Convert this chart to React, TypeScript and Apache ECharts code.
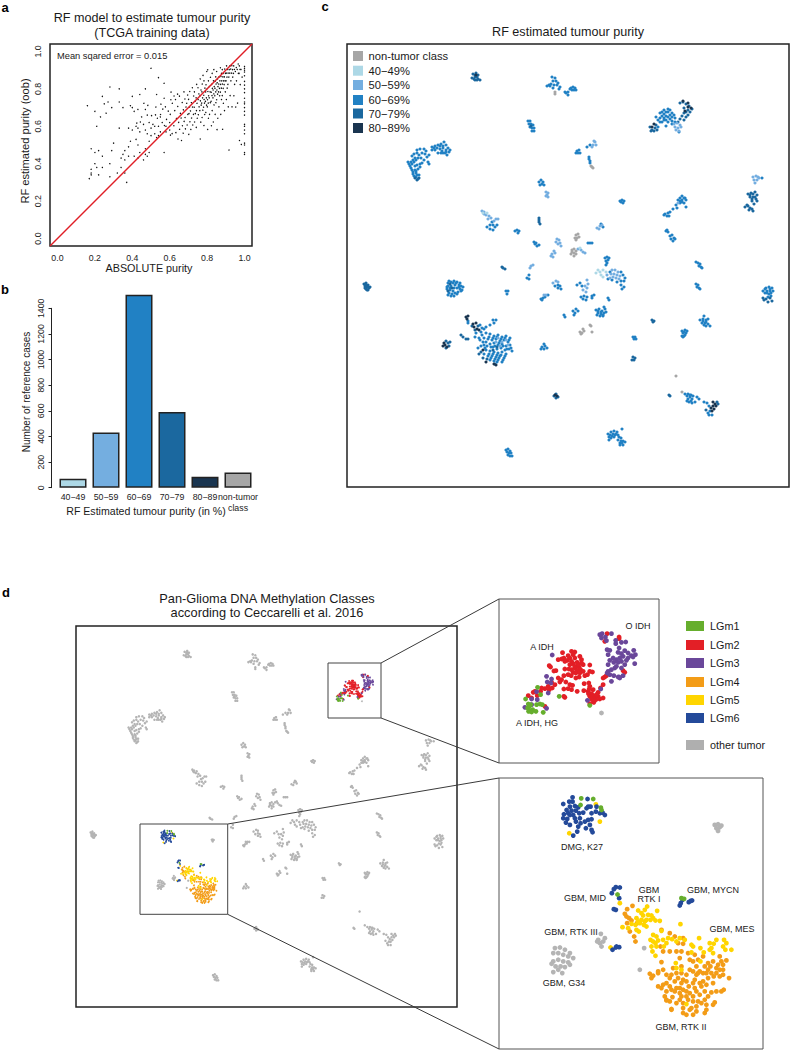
import React, { useEffect, useRef } from "react";
import * as echarts from "echarts";

// ---------- panel a: ABSOLUTE purity (x, y flat pairs) ----------
const trainingPairs = [
  .16,.71,.20,.68,.24,.76,.25,.72,.28,.81,.27,.73,.29,.7,.33,.8,.33,.73,.35,.70,.26,.67,.23,.65,.21,.60,.33,.59,.38,.59,.4,.76,.39,.71,.40,.70,.44,.77,.47,.8,.41,.68,.43,.69,.47,.69,.48,.66,.45,.65,.42,.6,.4,.58,.43,.59,.44,.57,.47,.58,.48,.56,.5,.91,.54,.86,.57,.83,.53,.77,.57,.75,.18,.48,.2,.46,.22,.47,.24,.44,.2,.4,.21,.38,.18,.37,.18,.35,.18,.34,.17,.32,.22,.34,.24,.38,.28,.4,.28,.33,.32,.35,.34,.38,.36,.35,.37,.3,.29,.47,.3,.51,.34,.43,.36,.42,.35,.45,.36,.47,.38,.44,.38,.49,.39,.52,.42,.53,.43,.5,.44,.46,.41,.44,.43,.43,.46,.42,.47,.45,.48,.44,.47,.48,.49,.46,.49,.52,.5,.55,.5,.59,.52,.6,.46,.61,.49,.62,.51,.61,.52,.56,.54,.55,.53,.54,.55,.57,.54,.6,.56,.62,.57,.46,.58,.6,.58,.57,.6,.58,.6,.62,.55,.65,
  .604,.553,.583,.637,.577,.704,.592,.681,.606,.742,.613,.561,.563,.692,.551,.663,.572,.604,.534,.643,.524,.661,.503,.657,.526,.703,.483,.712,.462,.723,.553,.718,.607,.783,.623,.762,.424,.617,.443,.623,.642,.772,
  .603,.664,.614,.723,.622,.603,.627,.684,.633,.566,.636,.642,.631,.743,.644,.532,.648,.621,.643,.706,.653,.584,.657,.669,.652,.761,.663,.524,.668,.603,.661,.644,.667,.727,.672,.563,.677,.626,.673,.688,.676,.784,.684,.586,.682,.647,.687,.703,.681,.746,.693,.607,.697,.664,.691,.723,.696,.767,.702,.557,.708,.624,.703,.668,.706,.703,.701,.744,.707,.786,
  .713,.583,.717,.644,.711,.682,.716,.726,.723,.607,.727,.664,.722,.703,.728,.762,.721,.806,.733,.623,.737,.668,.731,.702,.736,.734,.732,.784,.742,.594,.747,.643,.743,.684,.746,.723,.741,.752,.744,.824,.753,.662,.757,.704,.752,.743,.756,.773,.751,.806,.763,.532,.766,.622,.761,.684,.768,.713,.764,.736,.762,.763,.767,.794,.763,.853,.773,.647,.777,.686,.771,.724,.776,.752,.772,.784,.774,.826,.778,.872,.783,.604,.787,.663,.781,.702,.786,.724,.784,.743,.782,.766,.788,.804,.783,.843,.793,.674,.797,.713,.791,.733,.796,.752,.792,.784,.794,.822,.798,.893,.803,.583,.807,.643,.801,.704,.806,.724,.802,.742,.808,.763,.804,.786,.801,.802,.807,.843,.803,.902,
  .813,.664,.817,.726,.811,.752,.816,.784,.812,.813,.818,.862,.823,.603,.827,.684,.821,.733,.826,.764,.822,.782,.828,.803,.824,.824,.827,.883,.833,.623,.837,.714,.831,.752,.836,.773,.832,.794,.838,.812,.834,.843,.836,.903,.843,.664,.847,.726,.841,.763,.846,.784,.842,.803,.848,.826,.844,.842,.846,.864,.853,.582,.857,.643,.851,.742,.856,.772,.852,.794,.858,.812,.854,.833,.856,.853,.851,.893,.863,.704,.867,.763,.861,.784,.866,.803,.862,.826,.868,.843,.864,.864,.873,.664,.877,.743,.871,.783,.876,.804,.872,.824,.878,.843,.874,.866,.877,.883,.871,.913,.883,.584,.887,.723,.881,.764,.886,.803,.882,.826,.888,.843,.884,.864,.886,.883,.881,.903,.893,.684,.897,.784,.891,.823,.896,.843,.892,.864,.898,.883,.894,.906,.903,.743,.907,.804,.901,.843,.906,.863,.902,.884,.908,.904,.904,.923,
  .913,.704,.917,.473,.911,.824,.916,.863,.912,.884,.918,.903,.923,.764,.927,.843,.921,.884,.926,.906,.922,.923,.933,.704,.937,.863,.931,.884,.936,.903,.932,.924,.943,.763,.947,.824,.941,.883,.946,.904,.942,.923,.953,.703,.957,.843,.951,.893,.956,.914,.963,.724,.967,.883,.961,.904,.966,.933,.973,.524,.977,.823,.971,.883,.976,.904,.972,.923,.983,.503,.987,.863,.981,.904,
  1,.45,1,.46,1,.5,1,.51,1,.56,1,.58,1,.6,1,.61,1,.66,1,.68,1,.7,1,.72,1,.73,1,.75,1,.78,1,.8,1,.82,1,.84,1,.87,1,.89,1,.9,1,.91,1,.92,
];
const identityLine = [-0.04, 1.04];
const purityTicks = [0, 0.2, 0.4, 0.6, 0.8, 1.0];

// ---------- panel b ----------
const barCategories = ["40\u221249", "50\u221259", "60\u221269", "70\u221279", "80\u221289", "non-tumor\nclass"];
const barValues = [70, 430, 1505, 590, 85, 118];
const barColors = ["#ADD8E6", "#74AEE0", "#2181C4", "#1B689F", "#1A3550", "#A6A6A6"];

// ---------- panel c: embedding points by class (x, y flat pairs) ----------
const p60 = [
  552,77,555,78,553,81,556,81,558,83,551,84,554,85,557,85,549,85,547,86,550,86,560,87,559,89,553,88,
  528,121,530,121,529,124,531,124,533,125,530,127,532,128,534,128,532,131,534,131,
  418,179,416,177,414,176,419,175,416,173,413,172,412,170,415,170,411,168,409,164,408,162,411,162,413,160,415,158,412,156,414,154,417,165,420,164,422,163,424,160,421,158,419,155,422,153,417,150,420,149,424,149,426,151,420,167,429,155,428,162,429,164,432,147,435,146,438,145,441,144,444,142,446,145,443,148,440,149,435,150,432,150,442,151,446,150,449,152,447,155,445,153,450,150,438,153,
  410,166,412,164,414,162,416,160,418,158,417,153,425,154,427,157,418,169,415,166,413,174,417,175,416,171,434,148,437,148,440,146,443,146,448,148,446,152,443,153,441,153,
  539,182,541,180,543,182,540,185,542,184,544,185,492,222,490,225,493,225,495,227,490,229,487,227,493,230,497,225,
  515,231,517,230,519,231,518,233,534,242,535,244,537,246,536,243,539,245,
  571,88,573,87,575,88,572,90,574,90,576,90,570,89,568,92,566,93,568,95,565,92,
  660,113,664,110,668,109,672,113,668,112,664,114,660,118,664,118,668,117,672,117,658,120,662,122,668,122,672,121,675,118,656,117,666,126,675,122,658,127,679,132,
  662,112,666,112,670,110,674,115,666,116,670,115,662,116,660,122,664,120,670,119,672,124,666,120,
  577,151,579,150,578,153,580,153,576,153,587,147,590,145,589,157,589,159,590,161,590,163,
  762,178,620,201,622,200,624,201,621,202,623,203,
  680,198,682,196,685,198,678,200,682,200,686,200,680,203,684,203,676,205,686,207,677,208,673,209,670,212,668,213,665,214,667,216,669,216,664,215,680,201,684,198,682,202,
  603,227,601,224,588,243,590,243,592,243,666,231,667,230,668,232,670,236,672,235,674,238,671,239,673,241,675,239,
  605,258,607,257,609,258,606,261,608,260,607,263,606,265,
  448,283,451,282,454,281,457,282,448,286,451,286,455,285,459,285,461,286,447,289,450,290,453,291,457,288,460,289,463,287,449,293,452,294,455,293,458,292,461,291,451,296,
  449,281,453,283,456,283,460,283,447,287,450,288,454,288,459,287,462,290,448,295,454,296,457,294,
  529,275,527,278,529,279,506,291,508,291,507,294,555,286,558,285,560,286,561,289,558,288,543,298,545,297,541,299,548,295,542,300,
  468,321,468,323,480,325,482,328,484,329,486,327,481,332,476,333,475,337,479,338,493,320,496,320,494,323,490,325,
  482,335,486,333,490,334,494,336,498,335,502,337,506,336,510,338,484,338,488,339,492,340,496,339,500,341,504,340,508,342,486,342,490,344,494,343,498,345,502,344,506,346,510,345,493,347,497,349,501,348,505,350,509,349,512,351,486,350,490,351,494,352,498,353,502,352,506,354,484,354,488,356,492,356,496,357,500,356,504,358,490,360,494,361,498,360,502,362,495,364,478,348,
  480,340,483,342,487,346,491,347,495,346,499,343,503,346,507,349,511,348,489,354,493,354,497,355,501,355,505,356,491,358,495,359,499,358,503,360,497,362,484,345,481,346,485,348,489,337,493,338,497,337,501,339,505,338,509,340,
  544,344,542,347,545,346,547,348,544,349,541,349,
  506,450,508,449,510,451,507,452,509,453,511,453,508,455,510,456,512,456,
  610,272,621,272,623,275,625,278,621,281,624,281,617,282,612,280,608,279,621,285,624,287,622,289,
  577,285,580,283,582,286,581,297,584,296,587,297,583,299,586,300,592,296,594,295,592,298,608,298,609,300,573,311,575,313,574,315,576,309,578,311,596,310,599,309,602,311,605,309,598,313,601,314,604,313,600,316,603,316,606,312,604,307,564,315,565,317,598,311,601,312,603,315,597,315,
  696,262,698,263,700,264,699,266,701,267,702,268,696,284,698,285,697,287,699,288,700,289,
  766,288,769,287,772,288,763,291,767,291,770,291,773,291,765,293,769,294,771,293,768,297,765,289,770,289,767,293,771,296,
  704,316,700,320,703,319,706,320,708,319,702,323,705,323,708,324,710,326,706,326,703,321,706,322,704,325,
  682,331,685,330,687,331,683,333,686,333,682,336,684,336,683,337,684,332,685,335,633,337,635,337,636,339,634,339,
  685,394,688,394,691,395,693,396,687,396,690,397,692,399,697,397,699,399,695,402,687,401,689,402,692,403,704,402,707,403,709,406,708,413,710,411,712,415,709,415,690,395,688,399,691,401,
  608,434,611,432,614,431,617,432,609,437,612,436,615,435,618,435,609,440,622,429,618,440,621,438,623,441,620,443,625,442,623,445,620,445,610,435,613,434,616,434,611,438,614,437,619,437,621,441,622,443,
];
const p70 = [
  473,74,476,73,478,75,475,77,472,78,478,79,475,80,480,80,477,77,475,75,474,79,477,80,531,126,417,180,419,178,415,178,
  539,218,539,220,539,222,540,224,650,127,652,130,655,128,657,130,654,131,651,131,656,125,
  680,103,683,102,686,104,689,106,684,108,688,110,692,109,686,112,690,112,684,113,688,115,682,116,686,117,680,119,684,120,678,122,
  748,194,751,193,755,192,757,195,750,197,753,197,756,199,752,201,757,201,754,204,745,207,748,206,750,208,752,209,749,210,753,211,747,205,750,195,753,194,752,199,755,197,
  364,284,366,283,368,285,365,286,367,287,369,288,366,289,368,290,370,287,366,285,365,288,368,287,367,290,450,284,448,291,452,288,
  502,267,503,268,505,269,472,326,475,330,478,326,461,335,463,337,466,339,468,339,446,341,448,343,450,342,449,346,446,348,
  481,352,479,354,483,358,487,359,493,350,497,347,554,396,556,394,558,397,556,398,
  763,298,766,299,770,298,764,300,768,302,772,301,652,320,654,321,653,322,633,357,635,358,632,360,634,360,669,395,670,396,718,404,717,402,706,410,
];
const p50 = [
  546,192,548,193,547,195,548,197,546,196,482,211,484,212,486,215,489,216,491,218,484,214,488,219,494,221,496,219,498,219,
  557,239,559,240,556,242,558,244,560,243,561,246,554,251,552,254,555,253,551,256,553,257,
  674,124,677,123,680,125,675,127,678,128,681,127,676,130,679,131,593,145,595,142,596,145,594,141,592,147,
  753,177,756,176,758,177,754,180,757,180,755,183,759,178,678,203,597,228,600,226,602,225,599,229,578,249,581,250,583,252,585,253,
  530,268,531,266,533,265,553,283,556,281,558,282,546,295,544,295,498,338,502,342,496,342,500,346,506,340,508,345,
  612,270,615,270,618,272,611,274,614,274,617,275,620,276,613,277,616,278,619,279,607,275,610,278,587,280,588,284,585,286,587,288,583,290,586,292,
];
const p40 = [483,213,487,213,580,248,598,270,600,272,596,273,603,270,601,275,603,277,606,272];
const p80 = [
  476,75,654,124,652,127,683,101,688,103,691,108,688,107,685,111,466,317,468,316,467,319,473,324,476,323,474,327,477,329,479,330,
  444,343,445,345,447,347,443,346,494,364,496,365,483,350,486,362,555,395,557,396,
  713,402,715,404,713,406,716,406,711,408,714,409,712,411,
];
const nonTumor = [
  555,92,555,94,591,166,592,167,593,168,576,235,578,234,575,238,577,238,579,237,576,240,572,250,574,249,576,251,572,252,574,253,571,254,576,254,574,256,
  580,332,583,329,582,333,590,325,591,326,592,332,584,331,581,334,676,376,682,392,
];

// ---------- panel d: magnified glioma points by methylation class (x, y flat pairs) ----------
const idhLGm2 = [
  218,189,245,185,255,187,250,195,235,198,222,205,205,210,215,208,240,205,255,205,270,200,275,210,245,215,232,212,250,222,262,218,280,225,300,226,178,228,182,232,198,243,192,244,225,238,237,238,245,240,255,235,268,232,262,242,272,240,250,248,258,250,280,245,300,245,308,247,222,258,215,270,210,277,228,277,244,258,258,265,268,262,285,258,293,255,283,282,297,280,300,290,240,285,248,287,235,297,222,298,245,300,262,305,282,303,295,305,305,312,296,312,300,320,310,318,315,325,305,328,318,330,312,338,325,320,340,325,332,295,340,285,345,262,340,265,350,258,185,278,187,295,178,300,165,297,155,295,152,305,135,305,130,308,115,318,125,325,142,318,225,323,222,320,165,350,300,342,325,308,400,243,405,248,352,132,388,142,388,147,345,155,
  225,215,240,225,255,230,265,225,275,220,270,250,235,255,205,265,195,285,175,290,310,300,320,315,330,328,310,332,298,298,
];
const idhLGm3 = [
  187,196,170,260,172,277,185,268,183,280,175,310,140,306,125,328,142,330,105,353,170,356,125,345,293,332,333,298,
  330,135,337,132,335,145,347,142,365,132,350,153,378,152,378,162,395,158,408,157,352,180,360,182,388,175,355,195,385,188,395,192,405,183,415,190,432,182,437,195,425,198,415,205,400,200,390,205,380,210,370,205,360,212,355,225,372,218,385,218,395,215,410,212,430,202,435,222,405,225,395,235,380,230,375,235,365,240,355,245,360,255,352,250,372,258,365,275,388,262,400,258,390,265,385,262,
];
const idhLGm1 = [143,293,152,315,107,328,115,343,122,345,113,355,120,363,128,360,116,365,125,367,138,365,140,345,150,343,157,345,160,368,208,320,300,347,118,350];
const idhOther = [335,370];

const gbmLGm4 = [
  412,418,428,408,405,432,410,440,418,445,425,452,412,460,442,460,420,485,433,500,437,515,515,480,540,490,555,500,580,505,565,520,580,522,512,530,520,545,540,545,560,545,575,545,595,550,615,555,515,577,570,565,610,575,640,560,690,560,710,572,695,575,685,585,680,595,700,600,680,610,718,625,505,605,480,612,485,625,550,595,530,615,545,615,575,610,600,600,620,590,645,590,640,610,620,615,665,610,655,625,670,640,640,635,615,630,580,630,565,625,505,650,520,645,540,650,570,655,597,650,615,655,635,650,555,665,570,670,590,665,610,680,630,675,645,665,665,668,680,665,702,660,525,680,530,692,548,682,570,690,595,690,625,695,645,690,675,698,545,718,605,715,620,710,650,720,645,730,580,730,590,735,610,735,620,725,530,665,
  600,570,625,570,655,580,670,575,700,585,662,590,655,600,700,615,690,620,520,600,560,610,590,615,610,605,630,605,650,610,575,590,505,610,490,618,540,625,555,635,575,640,590,635,610,640,630,640,650,645,530,640,515,655,545,660,560,655,580,660,600,670,620,665,575,680,590,680,540,695,560,700,580,700,610,695,635,700,655,680,695,665,545,720,580,715,650,705,670,705,625,610,672,620,690,600,530,690,600,720,
];
const gbmLGm5 = [
  445,422,465,420,472,410,502,423,485,437,460,437,440,445,455,450,470,450,482,450,497,452,510,453,437,465,450,460,462,465,425,462,398,472,415,475,470,470,440,480,447,485,572,463,515,483,490,495,482,510,490,515,497,520,505,512,485,530,488,545,497,558,522,530,535,505,547,508,570,505,585,510,605,525,628,505,632,535,642,548,660,520,680,510,672,522,665,535,670,550,703,510,710,520,707,540,725,540,605,548,560,595,575,600,558,580,590,703,632,575,
  455,430,475,435,490,445,445,455,465,455,500,530,530,520,560,515,610,530,660,540,700,530,520,510,500,500,
  238,190,318,103,330,155,390,400,362,533,
];
const gbmLGm6 = [
  248,82,220,102,238,95,248,95,293,87,240,110,255,108,265,112,230,120,245,122,258,122,222,133,235,130,250,135,268,130,290,115,302,110,320,110,318,125,305,130,330,130,345,135,338,128,220,145,232,147,228,158,240,165,258,155,272,160,285,155,295,150,305,148,300,165,288,175,265,170,262,185,250,197,305,180,308,187,240,135,255,145,270,145,280,128,295,110,
  378,352,390,353,372,358,366,370,388,385,372,418,378,420,603,393,597,397,607,392,570,407,573,400,578,390,378,533,388,532,368,540,380,530,
];
const gbmLGm1 = [274,85,310,87,272,105,333,113,335,120,383,374,575,385,583,387];
const gbmOther = [
  463,535,450,600,333,492,345,505,325,510,330,520,340,515,335,530,322,515,
  675,165,685,163,695,167,680,175,690,172,685,183,
  195,535,210,533,225,540,240,550,190,550,205,550,220,555,235,560,250,565,190,575,205,570,220,575,235,578,185,582,197,590,212,590,225,592,190,607,205,600,217,610,240,585,
];

const purityLegend = [
  ["non-tumor class", "#A6A6A6"], ["40\u221249%", "#ADD8E6"], ["50\u221259%", "#74AEE0"],
  ["60\u221269%", "#2181C4"], ["70\u221279%", "#1B689F"], ["80\u221289%", "#1A3550"],
];
const lgmLegend = [
  ["LGm1", "#66AE2D"], ["LGm2", "#E31F26"], ["LGm3", "#6A479A"], ["LGm4", "#F39C17"],
  ["LGm5", "#FFD500"], ["LGm6", "#244A9A"], ["other tumor", "#AFAFAF"],
];

const FONT = '"Liberation Sans", Arial, sans-serif';
const pairs = (f: number[]) => {
  const out: number[][] = [];
  for (let i = 0; i + 1 < f.length; i += 2) out.push([f[i], f[i + 1]]);
  return out;
};
const txt = (text: string, x: number, y: number, size: number, extra: any = {}) => ({
  type: "text", x, y, rotation: extra.rotation ?? 0, silent: true,
  style: { text, x: 0, y: 0, fill: extra.fill ?? "#1a1a1a", align: extra.align ?? "center", verticalAlign: "middle", font: `${extra.weight ?? "normal"} ${size}px ${FONT}` },
});
const seg = (x1: number, y1: number, x2: number, y2: number) => ({
  type: "line", silent: true, shape: { x1, y1, x2, y2 }, style: { stroke: "#3a3a3a", lineWidth: 1 }, z: 20,
});

export default function App() {
  const ref = useRef<HTMLDivElement>(null);
  useEffect(() => {
    const chart = echarts.init(ref.current!, undefined, { renderer: "svg" });

    const box = (left: number, top: number, width: number, height: number, bw: number, color = "#222") => ({
      show: true, left, top, width, height, borderColor: color, borderWidth: bw, backgroundColor: "transparent", containLabel: false,
    });
    const hiddenX = (gridIndex: number, min: number, max: number) => ({ type: "value", gridIndex, min, max, show: false });
    const hiddenY = (gridIndex: number, min: number, max: number) => ({ type: "value", gridIndex, min, max, inverse: true, show: false });
    const dots = (name: string, idx: number, data: number[][], color: string, size: number) => ({
      name, type: "scatter", xAxisIndex: idx, yAxisIndex: idx, data, symbolSize: size, silent: true,
      itemStyle: { color, opacity: 1 }, clip: true,
    });

    const tickLabel = { fontFamily: FONT, fontSize: 8.8, color: "#222" };
    const [tx0, tx1, ty0, ty1] = [27, 508, 28, 520];
    const [bx0, bx1, by0, by1] = [27, 820, 24, 838];
    const inEitherBox = (p: number[]) =>
      (p[0] >= 639 && p[0] <= 700 && p[1] >= 87 && p[1] <= 151) || (p[0] >= 421 && p[0] <= 523 && p[1] >= 274 && p[1] <= 379);
    const overview = [p60, p70, p50, p40, p80, nonTumor].flatMap((a) => pairs(a)).filter((p) => !inEitherBox(p));

    const option: any = {
      animation: false,
      backgroundColor: "#fff",
      grid: [
        box(50, 44, 202, 202, 1.5),          // 0 a
        box(56.5, 308.3, 198, 179.4, 0),     // 1 b
        box(347, 44, 442, 443, 1.5),         // 2 c
        box(76, 626, 381, 381, 1.5),         // 3 overview
        box(328, 663, 53, 55, 1, "#444"),    // 4 small top
        box(140, 824, 87.7, 90.3, 1, "#444"),// 5 small bottom
        box(499, 599, 160, 164, 1, "#555"),  // 6 inset top
        box(499, 778, 264, 271, 1, "#555"),  // 7 inset bottom
      ],
      xAxis: [
        {
          type: "value", gridIndex: 0, min: -0.04, max: 1.04, axisLine: { show: false }, splitLine: { show: false },
          axisTick: { show: false },
          axisLabel: { ...tickLabel, margin: 7, customValues: purityTicks, formatter: (v: number) => v.toFixed(1) },
        },
        {
          type: "category", gridIndex: 1, data: barCategories, axisLine: { show: false }, axisTick: { show: false },
          axisLabel: { fontFamily: FONT, fontSize: 8.8, color: "#222", interval: 0, margin: 4, lineHeight: 11, hideOverlap: false, overflow: "none" },
        },
        hiddenX(2, 347, 789), hiddenX(3, 347, 789),
        hiddenX(4, tx0, tx1), hiddenX(5, bx0, bx1), hiddenX(6, tx0, tx1), hiddenX(7, bx0, bx1),
      ],
      yAxis: [
        {
          type: "value", gridIndex: 0, min: -0.04, max: 1.04, axisLine: { show: false }, splitLine: { show: false },
          axisTick: { show: false },
          axisLabel: { ...tickLabel, rotate: 90, margin: 8, customValues: purityTicks, formatter: (v: number) => v.toFixed(1) },
        },
        {
          type: "value", gridIndex: 1, min: 0, max: 1400, interval: 200, offset: 5, splitLine: { show: false },
          axisLine: { show: true, lineStyle: { color: "#222", width: 1 } },
          axisTick: { show: true, length: 3, lineStyle: { color: "#222", width: 1 } },
          axisLabel: { ...tickLabel, rotate: 90, margin: 6, formatter: (v: number) => String(v) },
        },
        hiddenY(2, 44, 487), hiddenY(3, 44, 487),
        hiddenY(4, ty0, ty1), hiddenY(5, by0, by1), hiddenY(6, ty0, ty1), hiddenY(7, by0, by1),
      ],
      series: [
        dots("training", 0, pairs(trainingPairs), "#111", 1.4),
        {
          name: "identity", type: "line", xAxisIndex: 0, yAxisIndex: 0, silent: true, showSymbol: false, symbol: "none",
          data: [[identityLine[0], identityLine[0]], [identityLine[1], identityLine[1]]],
          lineStyle: { color: "#E01E26", width: 1.5 }, z: 5,
        },
        {
          name: "cases", type: "bar", xAxisIndex: 1, yAxisIndex: 1, clip: false, barWidth: 27, silent: true,
          data: barValues.map((value, i) => ({ value, itemStyle: { color: barColors[i], borderColor: "#222", borderWidth: 1.5 } })),
        },
        dots("60-69%", 2, pairs(p60), "#2181C4", 3.1),
        dots("70-79%", 2, pairs(p70), "#1B689F", 3.1),
        dots("50-59%", 2, pairs(p50), "#74AEE0", 3.1),
        dots("40-49%", 2, pairs(p40), "#ADD8E6", 3.1),
        dots("80-89%", 2, pairs(p80), "#1A3550", 3.1),
        dots("non-tumor", 2, pairs(nonTumor), "#A6A6A6", 3.1),
        dots("other tumor", 3, overview, "#B4B4B4", 2.5),
        dots("LGm2", 4, pairs(idhLGm2), "#E31F26", 1.8),
        dots("LGm3", 4, pairs(idhLGm3), "#6A479A", 1.8),
        dots("LGm1", 4, pairs(idhLGm1), "#66AE2D", 1.8),
        dots("other", 4, pairs(idhOther), "#B4B4B4", 1.8),
        dots("other", 5, pairs(gbmOther), "#B4B4B4", 2.2),
        dots("LGm4", 5, pairs(gbmLGm4), "#F39C17", 1.8),
        dots("LGm5", 5, pairs(gbmLGm5), "#FFD500", 1.8),
        dots("LGm6", 5, pairs(gbmLGm6), "#244A9A", 1.8),
        dots("LGm1", 5, pairs(gbmLGm1), "#66AE2D", 1.8),
        dots("LGm2", 6, pairs(idhLGm2), "#E31F26", 4.8),
        dots("LGm3", 6, pairs(idhLGm3), "#6A479A", 4.8),
        dots("LGm1", 6, pairs(idhLGm1), "#66AE2D", 4.8),
        dots("other", 6, pairs(idhOther), "#B4B4B4", 4.8),
        dots("other", 7, pairs(gbmOther), "#B4B4B4", 4.8),
        dots("LGm4", 7, pairs(gbmLGm4), "#F39C17", 4.8),
        dots("LGm5", 7, pairs(gbmLGm5), "#FFD500", 4.8),
        dots("LGm6", 7, pairs(gbmLGm6), "#244A9A", 4.8),
        dots("LGm1", 7, pairs(gbmLGm1), "#66AE2D", 4.8),
      ],
      graphic: {
        elements: [
          txt("a", 5, 7, 13, { weight: "bold", fill: "#000" }),
          txt("b", 5, 289, 13, { weight: "bold", fill: "#000" }),
          txt("c", 325, 6, 13, { weight: "bold", fill: "#000" }),
          txt("d", 6, 592, 13, { weight: "bold", fill: "#000" }),
          txt("RF model to estimate tumour purity", 152, 18, 12.6),
          txt("(TCGA training data)", 152, 33, 12.6),
          txt("Mean sqared error = 0.015", 57, 56, 9.3, { align: "left" }),
          txt("ABSOLUTE purity", 149, 268, 10.8),
          txt("RF estimated purity (oob)", 25, 141, 11.1, { rotation: Math.PI / 2 }),
          txt("Number of reference cases", 26, 392, 10, { rotation: Math.PI / 2 }),
          txt("RF Estimated tumour purity (in %)", 146, 511, 10.6),
          txt("RF estimated tumour purity", 568, 32, 12.6),
          txt("Pan-Glioma DNA Methylation Classes", 267, 598, 12.8),
          txt("according to Ceccarelli et al. 2016", 267, 612, 12.8),
          ...purityLegend.flatMap(([label, color], i) => {
            const y = [56, 70.7, 85, 100, 113.5, 128][i];
            return [
              { type: "rect", silent: true, shape: { x: 353, y: y - 5, width: 10, height: 10 }, style: { fill: color } },
              txt(label, 368.5, y, 11.2, { align: "left" }),
            ];
          }),
          ...lgmLegend.flatMap(([label, color], i) => {
            const y = [626, 645, 663, 682, 700, 718, 745][i];
            return [
              { type: "rect", silent: true, shape: { x: 686, y: y - 5, width: 18, height: 10 }, style: { fill: color } },
              txt(label, 710, y, 10.8, { align: "left" }),
            ];
          }),
          txt("O IDH", 638, 626, 9),
          txt("A IDH", 542, 647, 9),
          txt("A IDH, HG", 537, 723, 9),
          txt("DMG, K27", 582, 847, 9),
          txt("GBM, MID", 585, 898, 9),
          txt("GBM", 649, 890, 9),
          txt("RTK I", 649, 898.5, 9),
          txt("GBM, MYCN", 713, 890, 9),
          txt("GBM, RTK III", 571, 932, 9),
          txt("GBM, MES", 732, 929, 9),
          txt("GBM, G34", 564, 983, 9),
          txt("GBM, RTK II", 681, 1027, 9),
          seg(381, 663, 499, 599),
          seg(381, 718, 499, 763),
          seg(227.7, 824, 499, 778),
          seg(227.7, 914.3, 499, 1049),
        ],
      },
    };
    chart.setOption(option);
    return () => chart.dispose();
  }, []);
  return <div ref={ref} style={{ position: "absolute", left: 0, top: 0, width: 791, height: 1050 }} />;
}
